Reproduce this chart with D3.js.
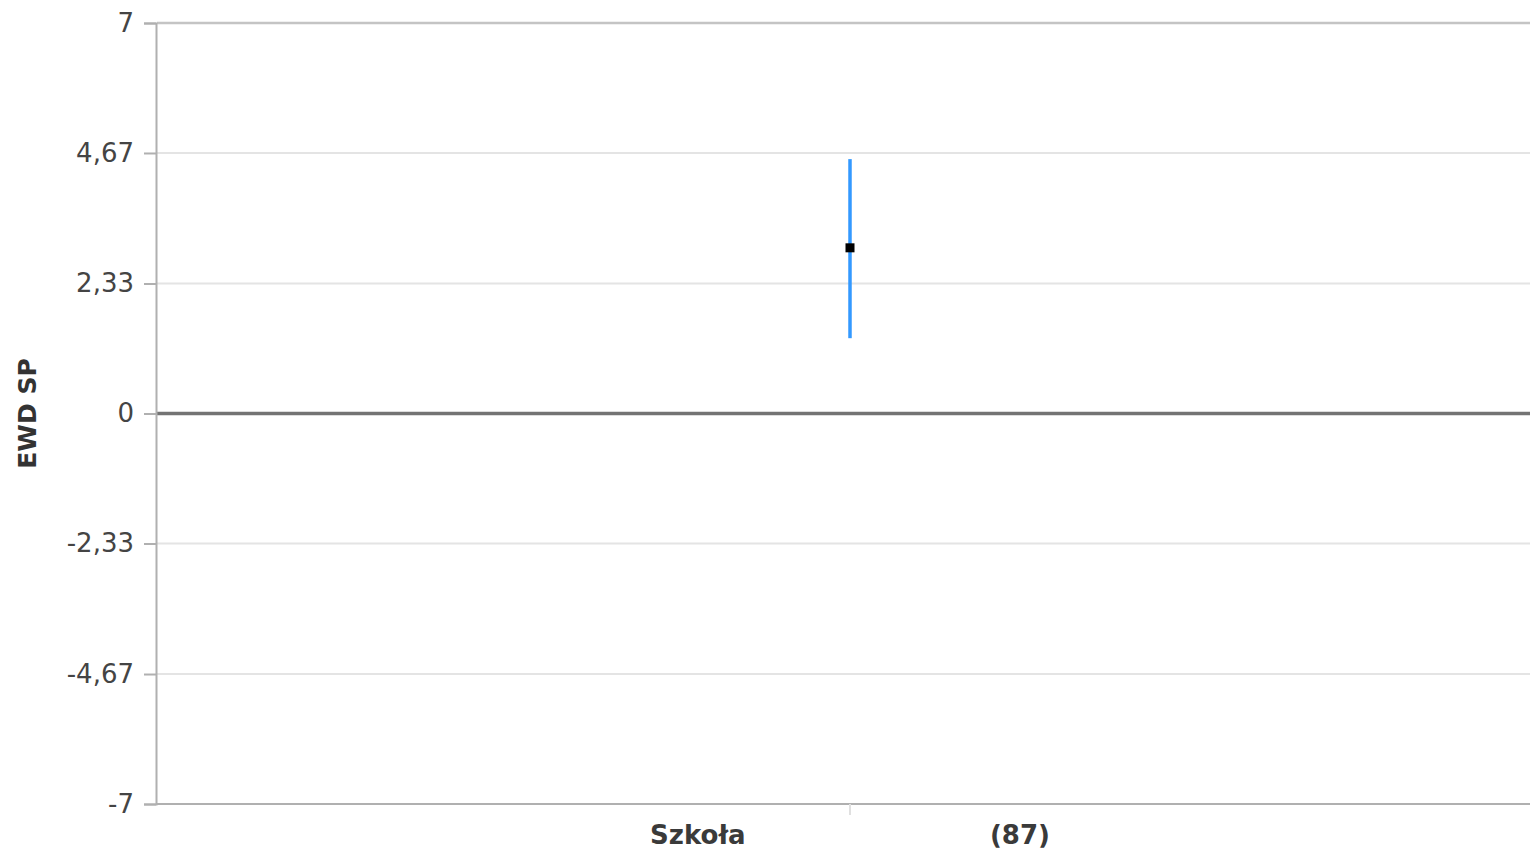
<!DOCTYPE html>
<html>
<head>
<meta charset="utf-8">
<script src="https://cdn.jsdelivr.net/npm/d3@7"></script>
<style>
html,body{margin:0;padding:0;background:#fff;overflow:hidden;}
svg{display:block;}
text{font-family:"DejaVu Sans",Verdana,sans-serif;}
</style>
</head>
<body>
<svg id="chart" width="1530" height="854"></svg>
<script>
const categories = ["Szkoła                           (87)"];
const values = [2.97];
const lowValues = [1.35];
const highValues = [4.56];
const yTicks = [-7, -4.67, -2.33, 0, 2.33, 4.67, 7];
const yTickLabels = ["-7", "-4,67", "-2,33", "0", "2,33", "4,67", "7"];
const yTitle = "EWD SP";

const svg = d3.select("#chart");
const margin = {left: 157, top: 23, right: -13, bottom: 50};
const W = 1530, H = 854;
const x = d3.scaleBand().domain(categories).range([margin.left, W - margin.right]);
const y = d3.scaleLinear().domain([-7, 7]).range([H - margin.bottom, margin.top]);

// gridlines
svg.append("g").selectAll("line").data(yTicks.filter(t => t !== 0 && t !== -7)).join("line")
  .attr("x1", margin.left).attr("x2", W - margin.right)
  .attr("y1", d => y(d)).attr("y2", d => y(d))
  .attr("stroke", d => d === 7 ? "#c4c4c4" : "#e4e4e4").attr("stroke-width", d => d === 7 ? 2.5 : 2);

// zero line
svg.append("line").attr("x1", margin.left).attr("x2", W - margin.right)
  .attr("y1", y(0)).attr("y2", y(0)).attr("stroke", "#737373").attr("stroke-width", 3.5);

// y axis
const yAxis = d3.axisLeft(y).tickValues(yTicks).tickFormat((d, i) => yTickLabels[i]).tickSize(12).tickPadding(10);
const gy = svg.append("g").attr("transform", `translate(${margin.left - 1},0)`).call(yAxis);
gy.select(".domain").attr("stroke", "#b0b0b0").attr("stroke-width", 2);
gy.selectAll(".tick line").attr("stroke", "#b0b0b0").attr("stroke-width", 2);
gy.selectAll(".tick text").attr("fill", "#444").style("font-size", "26px")
  .style("font-family", "DejaVu Sans, Verdana, sans-serif");

// x axis
const xAxis = d3.axisBottom(x).tickSize(11).tickPadding(8);
const gx = svg.append("g").attr("transform", `translate(0,${y(-7)})`).call(xAxis);
gx.select(".domain").attr("stroke", "#b0b0b0").attr("stroke-width", 2).attr("d", `M${margin.left},0H${W - margin.right}`);
gx.selectAll(".tick line").attr("stroke", "#e0e0e0").attr("stroke-width", 2);
gx.selectAll(".tick text").attr("fill", "#3a3a3a").attr("font-weight", "bold")
  .style("font-size", "26px").style("font-family", "DejaVu Sans, Verdana, sans-serif")
  .attr("xml:space", "preserve").style("white-space", "pre").attr("dy", "0.8em");

// error bars
const cx = i => x(categories[i]) + x.bandwidth() / 2;
svg.append("g").selectAll("line").data(values).join("line")
  .attr("x1", (d, i) => cx(i)).attr("x2", (d, i) => cx(i))
  .attr("y1", (d, i) => y(highValues[i])).attr("y2", (d, i) => y(lowValues[i]))
  .attr("stroke", "#3399ff").attr("stroke-width", 3.5);

// points
svg.append("g").selectAll("rect").data(values).join("rect")
  .attr("x", (d, i) => cx(i) - 4.5).attr("y", d => y(d) - 4.5)
  .attr("width", 9).attr("height", 9).attr("fill", "#000");

// y title
svg.append("text").attr("transform", `translate(36,${y(0)}) rotate(-90)`)
  .attr("text-anchor", "middle").attr("font-weight", "bold").attr("fill", "#333")
  .style("font-size", "25px").text(yTitle);
</script>
</body>
</html>
